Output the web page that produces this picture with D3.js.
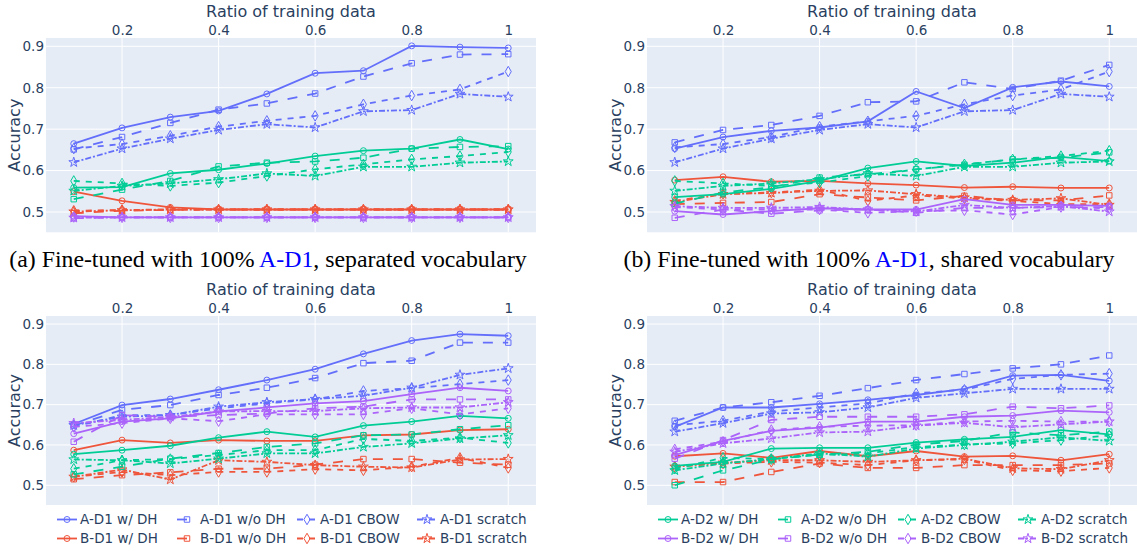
<!DOCTYPE html>
<html>
<head>
<meta charset="utf-8">
<script src="https://cdn.jsdelivr.net/npm/d3@7"></script>
<style>
  body { margin: 0; background: #fff; }
  svg { display: block; }
</style>
</head>
<body>
<div id="chart"></div>
<script>
const ratios = [0.1, 0.2, 0.3, 0.4, 0.5, 0.6, 0.7, 0.8, 0.9, 1.0];
const xTicks = [0.2, 0.4, 0.6, 0.8, 1];
const yTicks = [0.5, 0.6, 0.7, 0.8, 0.9];
const groups = ["A-D1", "B-D1", "A-D2", "B-D2"];
const methods = ["w/ DH", "w/o DH", "CBOW", "scratch"];

// each group: [w/ DH, w/o DH, CBOW, scratch]
const a_AD1 = [
  [0.665, 0.703, 0.729, 0.744, 0.785, 0.835, 0.841, 0.901, 0.898, 0.896],
  [0.651, 0.681, 0.715, 0.747, 0.762, 0.786, 0.827, 0.859, 0.880, 0.881],
  [0.653, 0.664, 0.684, 0.706, 0.720, 0.732, 0.760, 0.781, 0.796, 0.839],
  [0.620, 0.653, 0.677, 0.698, 0.712, 0.704, 0.743, 0.746, 0.785, 0.778]
];
const a_BD1 = [
  [0.549, 0.527, 0.511, 0.506, 0.506, 0.506, 0.506, 0.506, 0.506, 0.506],
  [0.497, 0.503, 0.505, 0.506, 0.506, 0.506, 0.506, 0.506, 0.506, 0.506],
  [0.503, 0.505, 0.506, 0.506, 0.506, 0.506, 0.506, 0.506, 0.506, 0.506],
  [0.501, 0.504, 0.506, 0.506, 0.506, 0.506, 0.506, 0.506, 0.506, 0.506]
];
const a_AD2 = [
  [0.559, 0.560, 0.593, 0.602, 0.617, 0.635, 0.648, 0.653, 0.675, 0.652],
  [0.531, 0.554, 0.575, 0.610, 0.619, 0.622, 0.631, 0.653, 0.657, 0.659],
  [0.575, 0.569, 0.563, 0.571, 0.587, 0.603, 0.615, 0.627, 0.635, 0.645],
  [0.551, 0.563, 0.569, 0.579, 0.593, 0.587, 0.609, 0.609, 0.619, 0.622]
];
const a_BD2 = [
  [0.490, 0.487, 0.487, 0.487, 0.487, 0.487, 0.487, 0.487, 0.487, 0.487],
  [0.485, 0.487, 0.487, 0.487, 0.487, 0.487, 0.487, 0.487, 0.487, 0.487],
  [0.488, 0.487, 0.487, 0.487, 0.487, 0.487, 0.487, 0.487, 0.487, 0.487],
  [0.486, 0.487, 0.487, 0.487, 0.487, 0.487, 0.487, 0.487, 0.487, 0.487]
];

const b_AD1 = [
  [0.653, 0.681, 0.696, 0.704, 0.719, 0.791, 0.751, 0.801, 0.815, 0.803],
  [0.668, 0.698, 0.710, 0.732, 0.765, 0.767, 0.813, 0.797, 0.817, 0.855],
  [0.656, 0.664, 0.681, 0.706, 0.719, 0.732, 0.760, 0.781, 0.796, 0.839],
  [0.620, 0.653, 0.677, 0.698, 0.712, 0.704, 0.743, 0.746, 0.785, 0.778]
];
const b_BD1 = [
  [0.577, 0.585, 0.573, 0.575, 0.569, 0.565, 0.559, 0.561, 0.558, 0.558],
  [0.519, 0.522, 0.524, 0.543, 0.535, 0.528, 0.539, 0.528, 0.528, 0.540],
  [0.527, 0.544, 0.547, 0.554, 0.527, 0.540, 0.533, 0.527, 0.519, 0.519],
  [0.524, 0.543, 0.546, 0.551, 0.552, 0.543, 0.535, 0.529, 0.533, 0.517]
];
const b_AD2 = [
  [0.536, 0.543, 0.556, 0.575, 0.606, 0.622, 0.611, 0.619, 0.633, 0.623],
  [0.520, 0.547, 0.560, 0.583, 0.591, 0.603, 0.614, 0.627, 0.631, 0.644],
  [0.575, 0.569, 0.563, 0.571, 0.587, 0.603, 0.615, 0.627, 0.635, 0.648],
  [0.551, 0.563, 0.569, 0.579, 0.593, 0.587, 0.609, 0.609, 0.619, 0.622]
];
const b_BD2 = [
  [0.502, 0.494, 0.502, 0.509, 0.506, 0.506, 0.531, 0.517, 0.517, 0.515],
  [0.486, 0.506, 0.496, 0.504, 0.506, 0.498, 0.510, 0.510, 0.512, 0.512],
  [0.512, 0.506, 0.506, 0.506, 0.498, 0.502, 0.504, 0.494, 0.512, 0.509],
  [0.514, 0.510, 0.510, 0.512, 0.506, 0.501, 0.517, 0.510, 0.514, 0.501]
];

const c_AD1 = [
  [0.652, 0.699, 0.714, 0.737, 0.761, 0.788, 0.826, 0.859, 0.875, 0.871],
  [0.648, 0.687, 0.699, 0.724, 0.742, 0.766, 0.803, 0.809, 0.854, 0.854],
  [0.645, 0.674, 0.674, 0.691, 0.703, 0.713, 0.734, 0.741, 0.751, 0.761],
  [0.649, 0.670, 0.674, 0.695, 0.706, 0.714, 0.722, 0.742, 0.774, 0.790]
];
const c_BD1 = [
  [0.587, 0.612, 0.605, 0.612, 0.610, 0.610, 0.624, 0.626, 0.637, 0.639],
  [0.515, 0.525, 0.532, 0.541, 0.541, 0.551, 0.565, 0.565, 0.556, 0.551],
  [0.521, 0.533, 0.525, 0.533, 0.533, 0.540, 0.537, 0.546, 0.568, 0.543],
  [0.521, 0.539, 0.514, 0.562, 0.558, 0.550, 0.546, 0.544, 0.564, 0.565]
];
const c_AD2 = [
  [0.577, 0.587, 0.598, 0.618, 0.633, 0.620, 0.648, 0.658, 0.672, 0.666],
  [0.527, 0.546, 0.566, 0.580, 0.595, 0.604, 0.624, 0.626, 0.639, 0.649],
  [0.541, 0.562, 0.565, 0.575, 0.587, 0.587, 0.615, 0.610, 0.618, 0.605],
  [0.564, 0.562, 0.554, 0.566, 0.579, 0.579, 0.595, 0.604, 0.616, 0.624]
];
const c_BD2 = [
  [0.628, 0.658, 0.666, 0.683, 0.693, 0.703, 0.709, 0.726, 0.742, 0.734],
  [0.608, 0.674, 0.670, 0.674, 0.678, 0.691, 0.695, 0.713, 0.713, 0.713],
  [0.645, 0.654, 0.666, 0.659, 0.676, 0.676, 0.676, 0.691, 0.676, 0.691],
  [0.654, 0.662, 0.670, 0.683, 0.684, 0.684, 0.691, 0.693, 0.693, 0.706]
];

const d_AD1 = [
  [0.645, 0.693, 0.693, 0.702, 0.712, 0.724, 0.739, 0.772, 0.774, 0.759],
  [0.660, 0.693, 0.706, 0.722, 0.741, 0.761, 0.776, 0.790, 0.800, 0.822],
  [0.649, 0.660, 0.683, 0.693, 0.703, 0.728, 0.737, 0.764, 0.774, 0.777],
  [0.633, 0.654, 0.678, 0.681, 0.693, 0.717, 0.728, 0.739, 0.739, 0.739]
];
const d_BD1 = [
  [0.572, 0.579, 0.568, 0.585, 0.572, 0.585, 0.571, 0.573, 0.562, 0.577],
  [0.508, 0.508, 0.533, 0.554, 0.543, 0.543, 0.550, 0.550, 0.550, 0.554],
  [0.546, 0.554, 0.558, 0.556, 0.550, 0.562, 0.564, 0.537, 0.535, 0.543],
  [0.546, 0.556, 0.562, 0.562, 0.558, 0.562, 0.566, 0.542, 0.540, 0.562]
];
const d_AD2 = [
  [0.548, 0.558, 0.591, 0.593, 0.593, 0.606, 0.614, 0.620, 0.637, 0.626],
  [0.500, 0.537, 0.564, 0.576, 0.583, 0.601, 0.610, 0.631, 0.624, 0.633],
  [0.541, 0.568, 0.565, 0.575, 0.579, 0.595, 0.601, 0.604, 0.612, 0.624],
  [0.537, 0.554, 0.565, 0.579, 0.571, 0.591, 0.600, 0.608, 0.619, 0.610]
];
const d_BD2 = [
  [0.575, 0.610, 0.635, 0.643, 0.658, 0.658, 0.670, 0.673, 0.685, 0.681],
  [0.566, 0.612, 0.662, 0.670, 0.670, 0.670, 0.676, 0.695, 0.691, 0.698],
  [0.589, 0.608, 0.637, 0.645, 0.648, 0.649, 0.658, 0.660, 0.658, 0.658],
  [0.583, 0.604, 0.616, 0.631, 0.633, 0.648, 0.655, 0.644, 0.651, 0.658]
];

const captions = [
  ["(a) Fine-tuned with 100% ", "A-D1", ", separated vocabulary"],
  ["(b) Fine-tuned with 100% ", "A-D1", ", shared vocabulary"]
];

const width = 1137;
const height = 551;
const colors = ["#636efa", "#ef553b", "#00cc96", "#ab63fa"];
const dashes = [null, "10,10", "6,6", "6,2,2,2"];
const symbols = [d3.symbolCircle, d3.symbolSquare, d3.symbolDiamond, d3.symbolStar];
const symbolSizes = [28, 30, 32, 30];
const textColor = "#2a3f5f";
const font = "'DejaVu Sans', Verdana, sans-serif";

const svg = d3
  .select("#chart")
  .append("svg")
  .attr("width", width)
  .attr("height", height)
  .attr("viewBox", [0, 0, width, height]);

const panels = [
  { data: [a_AD1, a_BD1, a_AD2, a_BD2], left: 46, right: 536, top: 38, bottom: 232.3 },
  { data: [b_AD1, b_BD1, b_AD2, b_BD2], left: 647, right: 1137, top: 38, bottom: 232.3 },
  { data: [c_AD1, c_BD1, c_AD2, c_BD2], left: 46, right: 536, top: 316, bottom: 505 },
  { data: [d_AD1, d_BD1, d_AD2, d_BD2], left: 647, right: 1137, top: 316, bottom: 505 }
];

panels.forEach((p) => {
  const x = d3.scaleLinear().domain([0.0425, 1.0575]).range([p.left, p.right]);
  const y = d3.scaleLinear().domain([0.451, 0.92]).range([p.bottom, p.top]);
  const g = svg.append("g");

  g.append("rect")
    .attr("x", p.left)
    .attr("y", p.top)
    .attr("width", p.right - p.left)
    .attr("height", p.bottom - p.top)
    .attr("fill", "#e5ecf6");

  // grid
  g.append("g")
    .selectAll("line")
    .data(xTicks)
    .join("line")
    .attr("x1", (d) => x(d))
    .attr("x2", (d) => x(d))
    .attr("y1", p.top)
    .attr("y2", p.bottom)
    .attr("stroke", "#fff")
    .attr("stroke-width", 1);
  g.append("g")
    .selectAll("line")
    .data(yTicks)
    .join("line")
    .attr("x1", p.left)
    .attr("x2", p.right)
    .attr("y1", (d) => y(d))
    .attr("y2", (d) => y(d))
    .attr("stroke", "#fff")
    .attr("stroke-width", 1);

  // axes with d3, then restyled like plotly
  const xAxis = g
    .append("g")
    .attr("transform", `translate(0, ${p.top - 3})`)
    .call(d3.axisTop(x).tickValues(xTicks).tickSize(0).tickPadding(0).tickFormat(d3.format("~g")));
  const yAxis = g
    .append("g")
    .attr("transform", `translate(${p.left - 2}, 0)`)
    .call(d3.axisLeft(y).tickValues(yTicks).tickSize(0).tickPadding(0).tickFormat(d3.format(".1f")));
  [xAxis, yAxis].forEach((ax) => {
    ax.select(".domain").remove();
    ax.selectAll("text")
      .attr("fill", textColor)
      .attr("font-family", font)
      .attr("font-size", 13.5);
  });
  xAxis.selectAll("text").attr("dy", 0);

  g.append("text")
    .text("Ratio of training data")
    .attr("x", (p.left + p.right) / 2)
    .attr("y", p.top - 21.3)
    .attr("text-anchor", "middle")
    .attr("fill", textColor)
    .attr("font-family", font)
    .attr("font-size", 16);

  g.append("text")
    .text("Accuracy")
    .attr("transform", `translate(${p.left - 32}, ${(p.top + p.bottom) / 2}) rotate(-90)`)
    .attr("text-anchor", "middle")
    .attr("dy", "0.35em")
    .attr("fill", textColor)
    .attr("font-family", font)
    .attr("font-size", 16);

  const line = d3
    .line()
    .x((d, i) => x(ratios[i]))
    .y((d) => y(d));

  p.data.forEach((grp, gi) => {
    grp.forEach((vals, mi) => {
      const tg = g.append("g");
      tg.append("path")
        .attr("d", line(vals))
        .attr("fill", "none")
        .attr("stroke", colors[gi])
        .attr("stroke-width", 1.8)
        .attr("stroke-dasharray", dashes[mi]);
      tg.selectAll("path.pt")
        .data(vals)
        .join("path")
        .attr("class", "pt")
        .attr("d", d3.symbol(symbols[mi], symbolSizes[mi]))
        .attr("transform", (d, i) => `translate(${x(ratios[i])}, ${y(d)})`)
        .attr("fill", "none")
        .attr("stroke", colors[gi])
        .attr("stroke-width", 1);
    });
  });
});

// captions
const captionCenters = [268, 869];
captions.forEach((c, i) => {
  const t = svg
    .append("text")
    .attr("x", captionCenters[i])
    .attr("y", 267)
    .attr("text-anchor", "middle")
    .attr("font-family", "'Liberation Serif', 'Times New Roman', serif")
    .attr("font-size", 23.8)
    .attr("fill", "#000");
  t.append("tspan").text(c[0]);
  t.append("tspan").text(c[1]).attr("fill", "#0000ff");
  t.append("tspan").text(c[2]);
});

// legends: left has A-D1/B-D1, right has A-D2/B-D2
const legendCols = [57, 177, 297, 417];
const legendRows = [519.5, 538.5];
[0, 1].forEach((side) => {
  const offset = side * 601;
  [0, 1].forEach((row) => {
    const gi = side * 2 + row;
    methods.forEach((m, mi) => {
      const x0 = legendCols[mi] + offset;
      const yc = legendRows[row];
      const item = svg.append("g").attr("transform", `translate(${x0}, ${yc})`);
      item.append("line")
        .attr("x1", 0)
        .attr("x2", 20)
        .attr("stroke", colors[gi])
        .attr("stroke-width", 1.8)
        .attr("stroke-dasharray", dashes[mi]);
      item.append("path")
        .attr("d", d3.symbol(symbols[mi], symbolSizes[mi])())
        .attr("transform", "translate(10, 0)")
        .attr("fill", "none")
        .attr("stroke", colors[gi])
        .attr("stroke-width", 1);
      item.append("text")
        .text(`${groups[gi]} ${m}`)
        .attr("x", 23)
        .attr("y", 4.7)
        .attr("fill", textColor)
        .attr("font-family", font)
        .attr("font-size", 13.5);
    });
  });
});
</script>
</body>
</html>
